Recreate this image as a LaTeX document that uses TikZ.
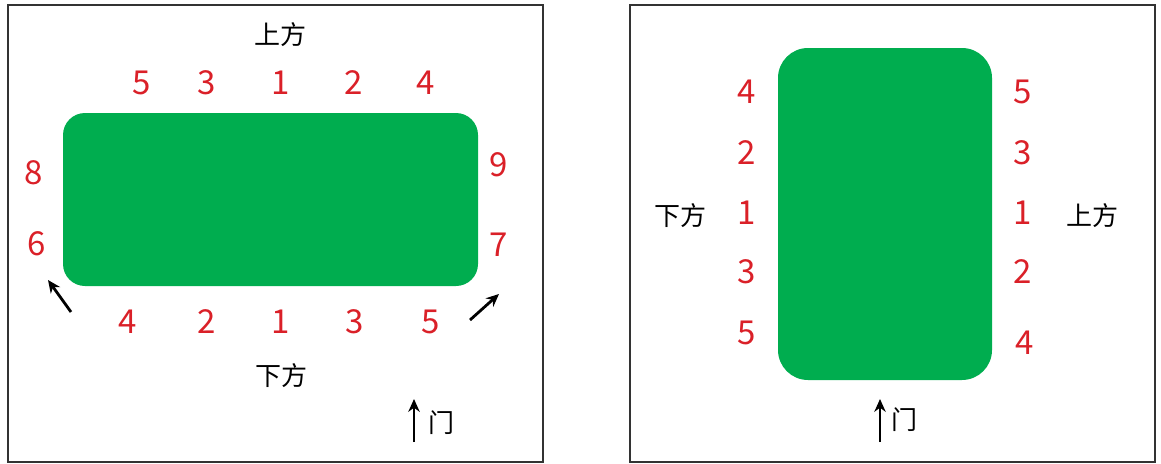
\documentclass[tikz,border=0pt]{standalone}
\usepackage{fontspec}
\setmainfont{Noto Sans CJK SC}
\usetikzlibrary{arrows.meta,positioning}

\begin{document}
\begin{tikzpicture}[
  x=1pt, y=-1pt,
  seat/.style={text=seatred, font=\fontsize{33}{33}\selectfont, inner sep=0pt},
  side/.style={font=\fontsize{26}{26}\selectfont, inner sep=0pt},
  panel/.style={draw=black!80, line width=1.2pt},
  table/.style={fill=tablegreen, draw=none},
  arr/.style={-{Stealth[length=4.5mm, width=4mm]}, line width=2.8pt}
]
\definecolor{seatred}{RGB}{218,32,40}
\definecolor{tablegreen}{RGB}{0,173,79}
\useasboundingbox (0,0) rectangle (1161,463);

% Left panel: long table
\draw[panel] (8,5) rectangle (543,462);
\fill[table, rounded corners=22pt] (63,113) rectangle (478,286);
\node[side] (upL) at (280,35) {上方};
\node[side] (downL) at (281,376) {下方};

% top row
\node[seat] (t5) at (142,83) {5};
\node[seat] (t3) at (207,83) {3};
\node[seat] (t1) at (281,83) {1};
\node[seat] (t2) at (354,83) {2};
\node[seat] (t4) at (426,83) {4};

% bottom row
\node[seat] (b4) at (128,322) {4};
\node[seat] (b2) at (207,322) {2};
\node[seat] (b1) at (281,322) {1};
\node[seat] (b3) at (355,322) {3};
\node[seat] (b5) at (431,322) {5};

% ends
\node[seat] (e8) at (34,173) {8};
\node[seat] (e6) at (37,244) {6};
\node[seat] (e9) at (499,165) {9};
\node[seat] (e7) at (499,245) {7};

% turn arrows
\coordinate (la0) at (71,312);
\coordinate (la1) at (48,280);
\coordinate (ra0) at (470,320);
\coordinate (ra1) at (499,294);
\draw[arr] (la0) -- (la1);
\draw[arr] (ra0) -- (ra1);

% door
\coordinate (dL0) at (414,442);
\coordinate (dL1) at (414,399);
\draw[arr] (dL0) -- (dL1);
\node[side] (doorL) at (441,423) {门};

% Right panel: table turned upright
\draw[panel] (630,5) rectangle (1155,462);
\fill[table, rounded corners=30pt] (778,48) rectangle (992,380);
\node[side] (downR) at (680,216) {下方};
\node[side] (upR) at (1092,216) {上方};

% left column
\node[seat] (l4) at (747,92) {4};
\node[seat] (l2) at (747,153) {2};
\node[seat] (l1) at (747,213) {1};
\node[seat] (l3) at (747,272) {3};
\node[seat] (l5) at (747,333) {5};

% right column
\node[seat] (r5) at (1023,92) {5};
\node[seat] (r3) at (1023,153) {3};
\node[seat] (r1) at (1023,213) {1};
\node[seat] (r2) at (1023,272) {2};
\node[seat] (r4) at (1025,343) {4};

% door
\coordinate (dR0) at (880,442);
\coordinate (dR1) at (880,399);
\draw[arr] (dR0) -- (dR1);
\node[side] (doorR) at (904,420) {门};

\end{tikzpicture}
\end{document}
